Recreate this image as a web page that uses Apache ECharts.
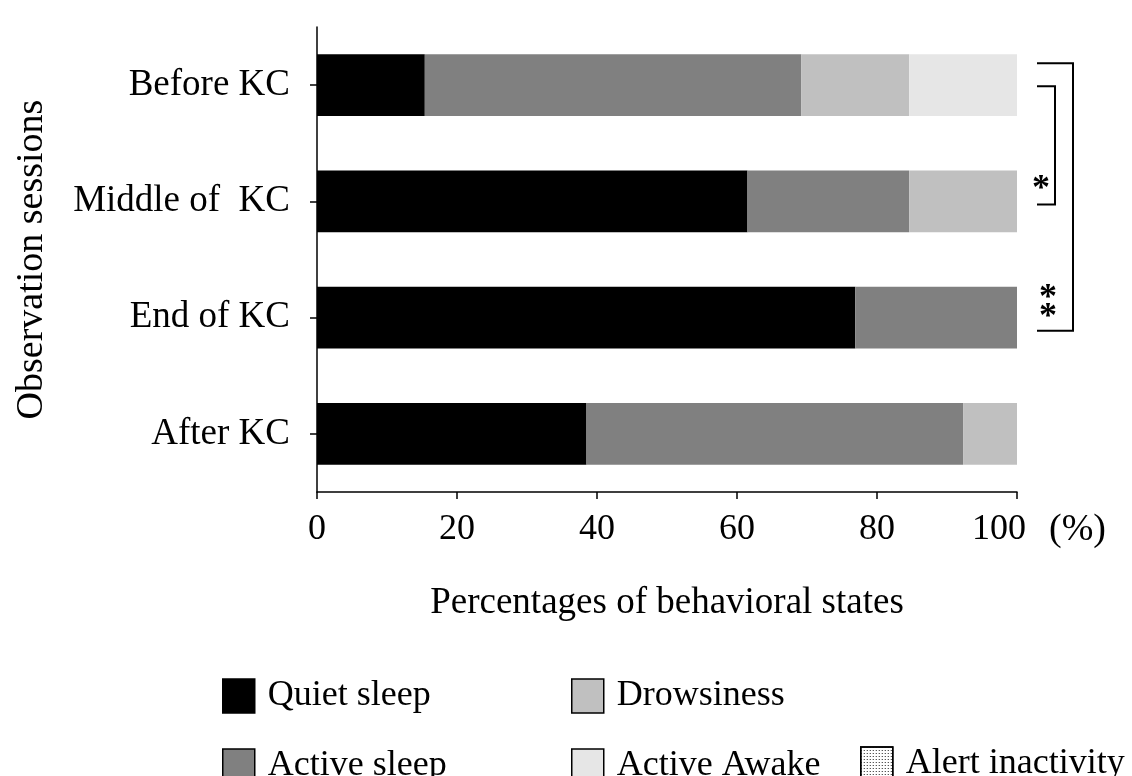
<!DOCTYPE html>
<html>
<head>
<meta charset="utf-8">
<script src="https://cdn.jsdelivr.net/npm/echarts@6/dist/echarts.min.js"></script>
<style>html,body{margin:0;padding:0;background:#fff;}#c{width:1132px;height:776px;}</style>
</head>
<body>
<div id="c"></div>
<script>
const categories = ['Before KC', 'Middle of  KC', 'End of KC', 'After KC'];
const quietSleep = [15.4, 61.5, 76.9, 38.5];
const activeSleep = [53.8, 23.1, 23.1, 53.8];
const drowsiness = [15.4, 15.4, 0, 7.7];
const activeAwake = [15.4, 0, 0, 0];
const alertInactivity = [0, 0, 0, 0];
const xTicks = [0, 20, 40, 60, 80, 100];

const FONT = "'Liberation Serif', 'Times New Roman', serif";
const chart = echarts.init(document.getElementById('c'), null, {renderer: 'canvas'});

const legendText = {fontFamily: FONT, fontSize: 36, color: '#000', padding: [0, 0, 0, 8]};
const legendBase = {
  orient: 'vertical', itemWidth: 32, itemHeight: 34, itemGap: 34,
  icon: 'rect', selectedMode: false, padding: 0, height: 200,
  itemStyle: {borderColor: '#000', borderWidth: 1.5},
  textStyle: legendText
};

function barSeries(name, data, color, extra) {
  return Object.assign({
    name: name, type: 'bar', stack: 'total', data: data,
    barWidth: '53%',
    itemStyle: {color: color},
    emphasis: {disabled: true},
    animation: false
  }, extra || {});
}

chart.setOption({
  animation: false,
  backgroundColor: '#fff',
  grid: {left: 317, right: 115, top: 27, bottom: 284},
  legend: [
    Object.assign({}, legendBase, {left: 222, top: 678, data: ['Quiet sleep', 'Active sleep']}),
    Object.assign({}, legendBase, {left: 571, top: 678, data: ['Drowsiness', 'Active Awake']}),
    Object.assign({}, legendBase, {left: 860, top: 746, data: ['Alert inactivity']})
  ],
  xAxis: {
    type: 'value', min: 0, max: 100, interval: 20,
    name: 'Percentages of behavioral states', nameLocation: 'middle', nameGap: 93,
    nameTextStyle: {fontFamily: FONT, fontSize: 37, color: '#000'},
    axisLine: {show: true, lineStyle: {color: '#000', width: 1.5}},
    axisTick: {show: true, inside: false, length: 7, lineStyle: {color: '#000', width: 1.5}},
    axisLabel: {fontFamily: FONT, fontSize: 36, color: '#000', margin: 20,
      formatter: v => !xTicks.includes(v) ? '' : (v === 100 ? '{s|' + v + '}' : String(v)),
      rich: {s: {fontFamily: FONT, fontSize: 36, color: '#000', padding: [0, 36, 0, 0]}}},
    splitLine: {show: false}
  },
  yAxis: {
    type: 'category', data: categories, inverse: true,
    name: 'Observation sessions', nameLocation: 'middle', nameRotate: 90, nameGap: 266,
    nameTextStyle: {fontFamily: FONT, fontSize: 38, color: '#000'},
    axisLine: {show: true, lineStyle: {color: '#000', width: 1.5}},
    axisTick: {show: true, alignWithLabel: true, inside: false, length: 7, lineStyle: {color: '#000', width: 1.5}},
    axisLabel: {fontFamily: FONT, fontSize: 37, color: '#000', margin: 27},
    splitLine: {show: false}
  },
  series: [
    barSeries('Quiet sleep', quietSleep, '#000000'),
    barSeries('Active sleep', activeSleep, '#808080'),
    barSeries('Drowsiness', drowsiness, '#c0c0c0'),
    barSeries('Active Awake', activeAwake, '#e6e6e6'),
    barSeries('Alert inactivity', alertInactivity, '#ffffff', {
      itemStyle: {color: '#ffffff', decal: {symbol: 'rect', symbolSize: 1, dashArrayX: [1, 2], dashArrayY: [1, 2], color: '#222', rotation: 0}}
    })
  ]
});

const x100 = chart.convertToPixel({xAxisIndex: 0}, 100);
const yB = chart.convertToPixel({yAxisIndex: 0}, categories[0]);
const yM = chart.convertToPixel({yAxisIndex: 0}, categories[1]);
const yE = chart.convertToPixel({yAxisIndex: 0}, categories[2]);
const yBottom = chart.convertToPixel({yAxisIndex: 0}, categories[3]) + 58;
const lineStyle = {stroke: '#000', lineWidth: 2, fill: null};
const starStyle = {text: '*', fontFamily: FONT, fontSize: 36, fontWeight: 'bold', fill: '#000', align: 'center', verticalAlign: 'middle'};

chart.setOption({
  graphic: [
    {type: 'polyline', silent: true, shape: {points: [[x100 + 20, yB - 22], [x100 + 56, yB - 22], [x100 + 56, yE + 13], [x100 + 20, yE + 13]]}, style: lineStyle},
    {type: 'polyline', silent: true, shape: {points: [[x100 + 20, yB + 1], [x100 + 38, yB + 1], [x100 + 38, yM + 3], [x100 + 20, yM + 3]]}, style: lineStyle},
    {type: 'text', silent: true, x: x100 + 24, y: yM - 12, style: starStyle},
    {type: 'text', silent: true, x: x100 + 31, y: yE - 19, style: starStyle},
    {type: 'text', silent: true, x: x100 + 31, y: yE, style: starStyle},
    {type: 'text', silent: true, x: x100 + 32, y: yBottom + 38, style: {text: '(%)', fontFamily: FONT, fontSize: 38, fill: '#000', align: 'left', verticalAlign: 'middle'}}
  ]
});
</script>
</body>
</html>
